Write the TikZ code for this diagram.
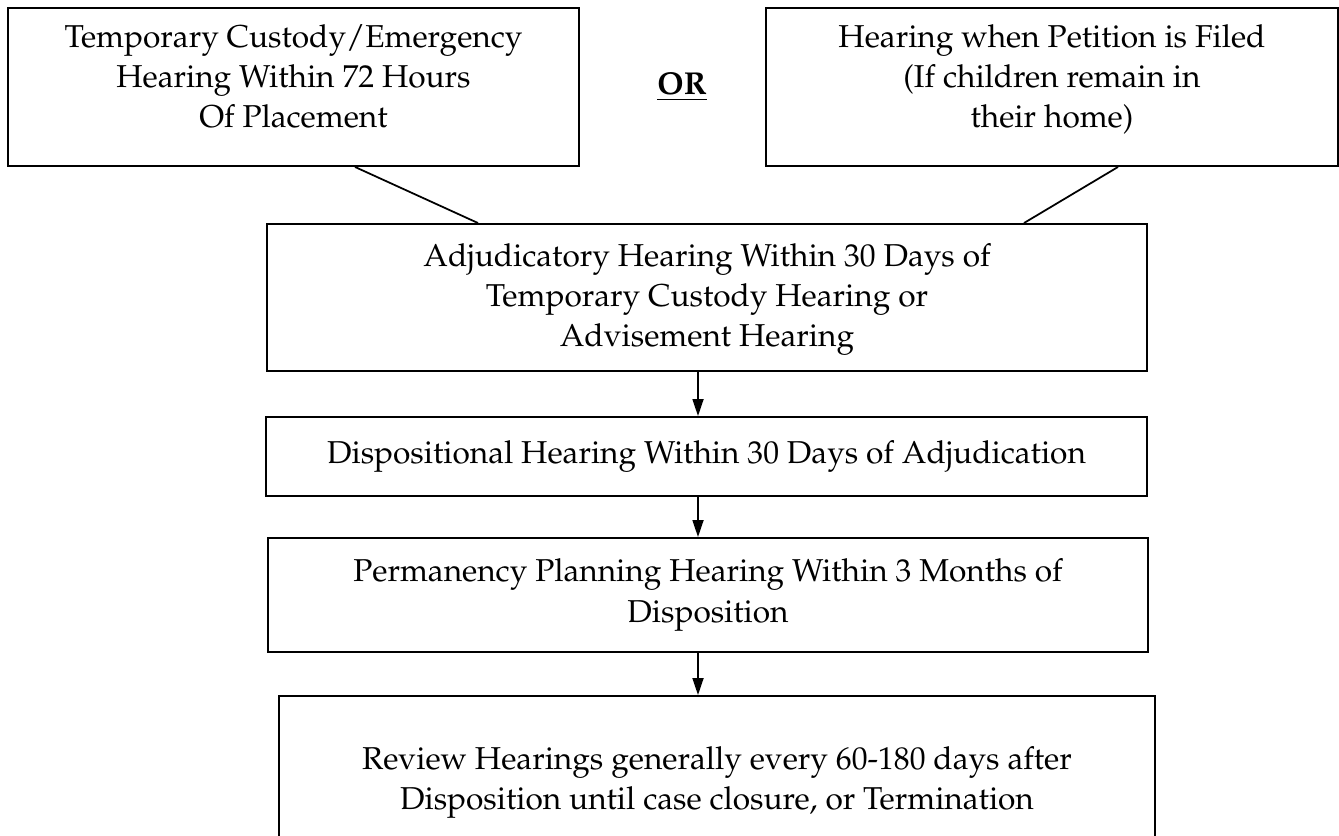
\documentclass[tikz,border=0pt]{standalone}
\usepackage[T1]{fontenc}
\usepackage{mathpazo}
\usetikzlibrary{arrows.meta}
\newcommand{\hearfont}{\fontsize{18}{22.8}\selectfont}
\tikzset{
  stage/.style={draw, line width=1.1pt, align=center, font=\hearfont, inner sep=0pt},
  upper/.style={stage, minimum height=3.16cm, text height=2.06cm, text depth=0.42cm},
  link/.style={line width=1pt},
  flow/.style={line width=1pt, -{Triangle[length=0.34cm, width=0.22cm]}}
}

\begin{document}
\begin{tikzpicture}
    \useasboundingbox (0,0) rectangle (26.78,-16.72);
    \node[upper, minimum width=11.42cm] (tc) at (5.87,-1.74)
      {Temporary Custody/Emergency\\Hearing Within 72 Hours\\Of Placement};
    \node[upper, minimum width=11.44cm] (pf) at (21.04,-1.74)
      {Hearing when Petition is Filed\\(If children remain in\\their home)};
    \node[font=\hearfont\bfseries, anchor=base] (or) at (13.64,-1.90) {\underline{OR}};
    \node[stage, minimum width=17.6cm, minimum height=2.94cm, text height=2.12cm, text depth=0.14cm] (adj) at (14.14,-5.95)
      {Adjudicatory Hearing Within 30 Days of\\Temporary Custody Hearing or\\Advisement Hearing};
    \node[stage, minimum width=17.62cm, minimum height=1.58cm] (disp) at (14.13,-9.13)
      {Dispositional Hearing Within 30 Days of Adjudication};
    \node[stage, minimum width=17.6cm, minimum height=2.28cm] (perm) at (14.16,-11.9)
      {Permanency Planning Hearing Within 3 Months of\\Disposition};
    \node[stage, minimum width=17.52cm, minimum height=3.46cm] (rev) at (14.34,-15.65)
      {Review Hearings generally every 60-180 days after\\Disposition until case closure, or Termination};
    \draw[link] ([xshift=1.23cm]tc.south) -- ([xshift=-4.58cm]adj.north);
    \draw[link] ([xshift=1.32cm]pf.south) -- ([xshift=6.34cm]adj.north);
    \draw[flow] ([xshift=-0.18cm]adj.south) -- ([xshift=-0.17cm]disp.north);
    \draw[flow] ([xshift=-0.17cm]disp.south) -- ([xshift=-0.2cm]perm.north);
    \draw[flow] ([xshift=-0.2cm]perm.south) -- ([xshift=-0.38cm]rev.north);
\end{tikzpicture}
\end{document}
